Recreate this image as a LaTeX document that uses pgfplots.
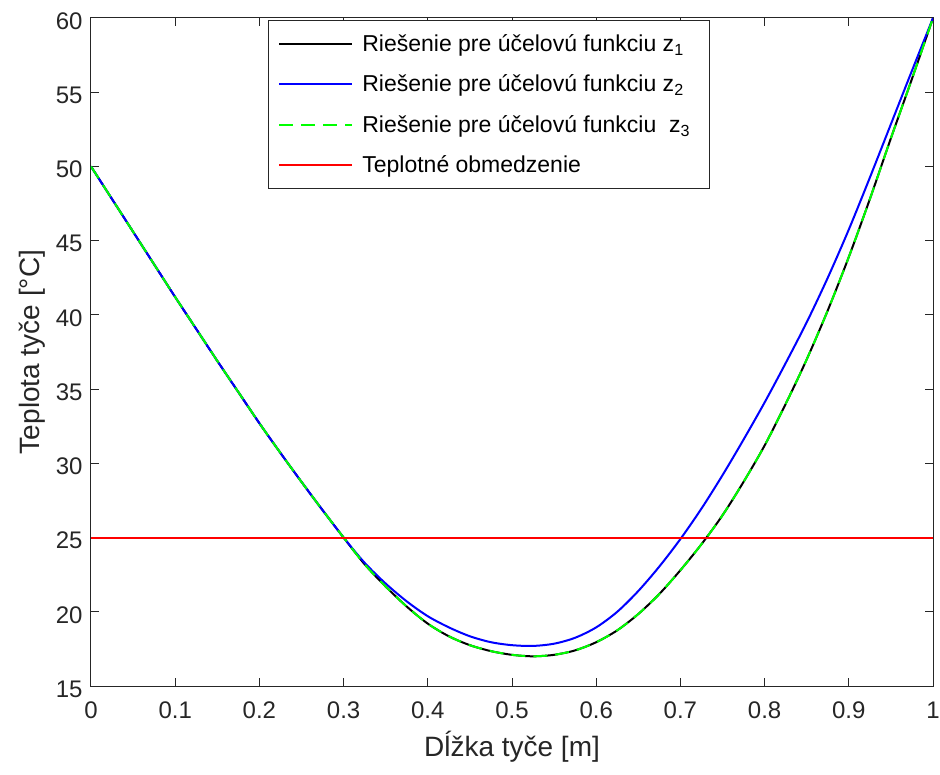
\documentclass[border=0pt]{standalone}
\usepackage{pgfplots}
\pgfplotsset{compat=1.18}
\usepackage{fontspec}
\setmainfont{Liberation Sans}
\definecolor{axgray}{RGB}{38,38,38}
\definecolor{mgreen}{RGB}{0,255,0}
\definecolor{mred}{RGB}{255,0,0}
\definecolor{mblue}{RGB}{0,0,255}
\pgfplotstableread{
x z1 z2
0.000 50.0 50.0
0.025 47.8 47.8
0.050 45.6 45.6
0.075 43.4 43.4
0.100 41.2 41.2
0.125 39.05 39.05
0.150 36.9 36.9
0.175 34.8 34.8
0.200 32.7 32.7
0.225 30.7 30.7
0.250 28.75 28.75
0.275 26.85 26.85
0.300 25.0 25.0
0.325 23.2 23.3
0.350 21.7 21.9
0.375 20.35 20.7
0.400 19.2 19.7
0.425 18.35 18.95
0.450 17.75 18.35
0.475 17.35 17.95
0.500 17.1 17.75
0.525 17.0 17.7
0.550 17.1 17.85
0.575 17.4 18.25
0.600 17.95 18.95
0.625 18.75 20.0
0.650 19.85 21.4
0.675 21.2 23.05
0.700 22.8 24.9
0.725 24.55 26.95
0.750 26.5 29.2
0.775 28.75 31.6
0.800 31.2 34.1
0.825 34.0 36.75
0.850 37.0 39.5
0.875 40.3 42.5
0.900 43.9 45.75
0.925 47.8 49.25
0.950 51.9 52.85
0.975 55.9 56.45
1.000 60.0 60.0
}\tbl
\begin{document}
\begin{tikzpicture}
\useasboundingbox (-91pt,-88pt) rectangle (849pt,686pt);
\begin{axis}[
  scale only axis,
  width=842pt, height=668pt,
  xmin=0, xmax=1, ymin=15, ymax=60,
  xtick={0,0.1,...,1.01},
  ytick={15,20,...,60},
  xticklabels={0,0.1,0.2,0.3,0.4,0.5,0.6,0.7,0.8,0.9,1},
  /pgf/number format/assume math mode=true,
  tick align=inside,
  major tick length=8pt,
  axis line style={axgray, line width=1pt},
  every tick/.style={axgray, line width=1pt},
  tick label style={font=\fontsize{24}{24}\selectfont, text=axgray},
  xticklabel style={yshift=-12pt},
  yticklabel style={xshift=-5pt, yshift=-3pt},
  xlabel={Dĺžka tyče [m]},
  ylabel={Teplota tyče [°C]},
  label style={font=\fontsize{28}{28}\selectfont, text=axgray},
  xlabel style={yshift=-6pt},
  ylabel style={yshift=4pt},
  legend style={at={(rel axis cs:0.21,0.997)}, anchor=north west,
    font=\fontsize{23}{23}\selectfont, draw=axgray, line width=1pt,
    row sep=18pt, inner xsep=10pt, inner ysep=12pt, text=black,
    nodes={inner xsep=9pt}},
  legend cell align=left,
  legend image code/.code={\draw[#1] (0pt,0pt) -- (73pt,0pt);},
]
\addplot[draw=black, line width=2pt, smooth] table[x=x, y=z1] {\tbl};
\addlegendentry{Riešenie pre účelovú funkciu z\textsubscript{1}}
\addplot[draw=mblue, line width=2pt, smooth] table[x=x, y=z2] {\tbl};
\addlegendentry{Riešenie pre účelovú funkciu z\textsubscript{2}}
\addplot[draw=mgreen, line width=2pt, smooth, dash pattern=on 14pt off 8pt] table[x=x, y=z1] {\tbl};
\addlegendentry{Riešenie pre účelovú funkciu\ \ z\textsubscript{3}}
\addplot[draw=mred, line width=2pt] coordinates {(0,25) (0.5,25) (1,25)};
\addlegendentry{Teplotné obmedzenie}
\end{axis}
\end{tikzpicture}
\end{document}
